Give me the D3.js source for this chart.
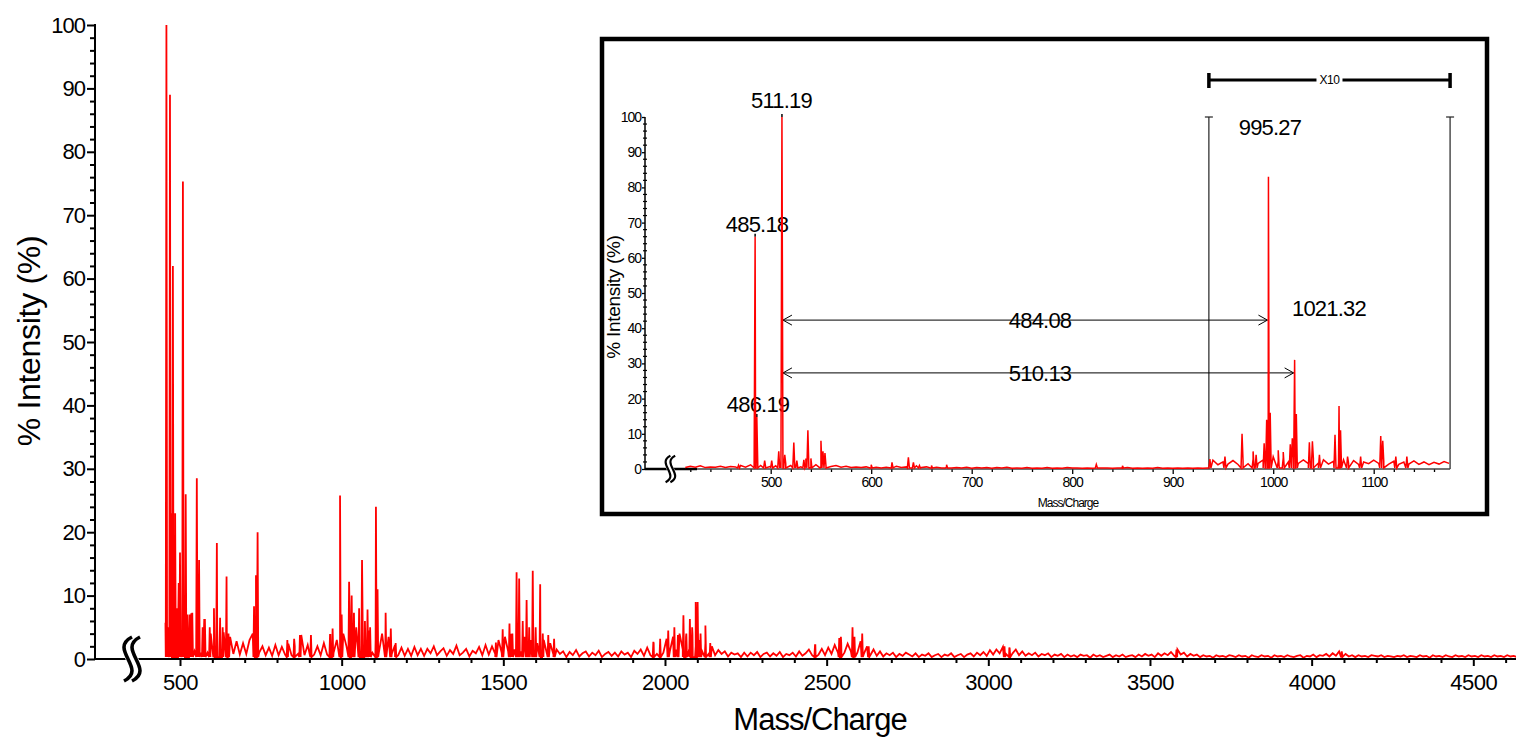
<!DOCTYPE html>
<html>
<head>
<meta charset="utf-8">
<script src="https://cdn.jsdelivr.net/npm/d3@7"></script>
<style>
body { margin: 0; background: #fff; }
text { font-family: "Liberation Sans", Arial, sans-serif; fill: #000; }
</style>
</head>
<body>
<script>
// ---- main spectrum data ----
// baseline noise, one value every 10 m/z starting at 455
var mainStart = 455, mainStep = 10;
var mainBase = [
  5.7,2.0,7.0,1.5,8.0,2.0,7.0,1.5,7.2,1.2,6.5,1.0,6.3,1.0,4.0,1.5,5.0,1.0,4.2,1.2,
  3.5,0.8,2.8,0.7,2.5,0.8,3.0,4.0,3.0,1.0,2.0,0.6,1.8,0.5,2.2,0.6,1.9,0.7,2.4,0.6,
  2.0,0.8,3.8,0.6,2.2,3.8,0.7,2.0,0.6,2.5,0.7,3.8,1.0,3.0,1.5,4.0,2.0,6.0,1.5,5.0,
  2.0,5.5,1.5,4.5,1.0,3.0,1.0,4.0,1.0,3.5,0.8,2.2,0.6,1.8,0.5,1.6,0.5,1.9,0.6,1.6,
  0.5,1.6,0.9,2.0,0.6,1.2,1.7,0.5,1.4,0.8,2.1,0.6,1.0,1.6,0.4,1.3,0.9,1.9,0.6,2.2,
  0.7,2.0,0.8,3.0,1.0,3.5,1.2,4.0,1.5,3.0,1.2,3.5,1.5,3.0,1.2,2.5,1.0,3.0,0.8,2.5,
  0.7,1.5,0.8,1.2,0.3,1.1,0.6,1.4,0.4,0.9,1.2,0.4,1.0,0.6,1.3,0.3,0.8,1.1,0.5,1.0,
  0.4,1.2,0.7,1.0,0.3,1.3,0.8,1.5,0.5,1.8,0.6,2.5,0.8,3.0,1.0,3.2,1.2,3.5,1.5,4.0,
  1.5,3.5,1.5,4.0,2.0,3.0,1.2,2.5,0.8,2.0,0.6,1.4,0.8,1.2,0.4,1.0,0.7,0.9,0.3,1.0,
  0.4,1.0,0.6,1.1,0.3,0.8,1.0,0.4,0.9,0.5,1.1,0.3,0.8,0.6,1.0,0.4,1.2,0.5,0.9,1.5,
  0.6,2.2,0.7,1.6,0.6,1.8,0.8,2.2,1.0,2.6,1.0,2.4,1.2,2.6,1.0,2.8,0.8,2.0,0.6,1.5,
  0.5,1.2,0.4,0.9,0.6,1.0,0.3,0.8,0.5,1.0,0.7,0.4,0.9,0.3,0.7,0.5,0.9,0.3,0.6,0.8,
  0.3,0.7,0.5,0.9,0.3,0.6,0.8,0.3,0.7,0.9,0.4,1.0,0.6,1.1,0.5,1.4,0.7,1.5,0.9,1.9,
  0.8,1.8,0.9,1.5,0.6,1.2,0.5,0.9,0.6,1.0,0.4,0.8,0.6,0.9,0.3,0.7,0.5,0.8,0.3,0.7,
  0.4,0.6,0.3,0.7,0.5,0.6,0.2,0.7,0.4,0.6,0.3,0.5,0.7,0.3,0.6,0.4,0.7,0.3,0.5,0.6,
  0.3,0.7,0.4,0.8,0.5,0.7,0.3,0.9,0.5,0.9,0.6,1.1,0.5,1.5,0.7,1.0,0.4,0.8,0.5,0.7,
  0.3,0.6,0.4,0.5,0.2,0.6,0.4,0.5,0.3,0.6,0.5,0.3,0.6,0.4,0.5,0.2,0.6,0.4,0.3,0.6,
  0.4,0.5,0.2,0.6,0.4,0.5,0.3,0.6,0.4,0.3,0.5,0.6,0.2,0.5,0.4,0.7,0.3,0.6,0.5,0.8,
  0.4,0.9,0.5,1.2,0.6,0.8,0.4,0.6,0.3,0.6,0.4,0.5,0.3,0.6,0.5,0.4,0.6,0.3,0.5,0.4,
  0.3,0.5,0.4,0.6,0.3,0.5,0.4,0.3,0.6,0.4,0.5,0.2,0.6,0.4,0.5,0.3,0.6,0.4,0.3,0.6,
  0.4,0.5,0.3,0.6,0.4,0.5,0.3,0.6,0.4,0.5,0.3,0.6,0.4,0.5,0.3,0.6,0.4,0.5,0.3
];
// [m/z, % intensity]
var mainPeaks = [
  [458,100],[462,5],[469,89],[473,23],[478,62],[485,23],[490,8],[496,12],[500,16.8],
  [509,75.3],[513,9],[517.6,26],[523,7],[530,7],[538,7.3],[552,28.5],[559,15.6],[570,5],
  [577,6.3],[592,5],[605,8],[614,18.3],[624,6.5],[632,5],[644,13],[650,4],
  [729,8.3],[735,13.2],[740,20],[832,3],[853,3.2],[871,3.8],[905,3.8],[964,3.8],[972,4.8],
  [995,25.8],[1000,7],[1023,12.2],[1031,10],[1038,7.3],[1054,8],[1063,15.6],[1072,6],
  [1080,7.8],[1088,5],[1106,24],[1111,11],[1136,7.3],[1152,4.8],[1167,2.5],
  [1477,2.6],[1498,4.7],[1519,5.6],[1528,4],[1541,13.7],[1549,12.7],[1560,6],[1572,9.3],
  [1580,5],[1591,13.9],[1600,5],[1614,11.8],[1622,4],[1639,3.8],[1657,3.2],
  [1964,2.7],[1985,3.2],[2010,4.5],[2029,5],[2040,3.8],[2057,6.9],[2066,4],[2077,6.3],
  [2084,5],[2095,9],[2101,9],[2110,4],[2125,5.3],[2140,2.5],
  [2464,2.2],[2539,3.3],[2544,3.5],[2580,5],[2586,3.5],[2610,4],[2630,2],
  [3050,2],[3066,1.7],[3582,1.5],[4093,1.2]
];
var mainXTicks = [500,1000,1500,2000,2500,3000,3500,4000,4500];
var mainYTicks = [0,10,20,30,40,50,60,70,80,90,100];

// ---- inset data ----
var insetStart = 415, insetStep = 5;
var insetBase = [
  0.4,0.8,0.5,0.9,0.4,0.6,0.5,0.8,0.4,0.7,0.6,1.0,0.5,1.2,0.6,1.0,0.5,0.8,0.9,1.5,
  1.5,1.0,1.2,0.6,1.0,0.5,1.2,0.6,0.9,0.7,1.0,0.5,0.8,0.4,0.6,0.4,0.6,0.3,0.5,0.3,
  0.5,0.3,0.8,0.4,0.6,0.3,0.9,0.4,0.6,0.3,0.5,0.3,0.6,0.3,0.4,0.3,0.5,0.2,0.4,0.3,
  0.4,0.2,0.4,0.3,0.5,0.2,0.3,0.2,0.4,0.2,0.3,0.2,0.4,0.2,0.3,0.2,0.4,0.3,0.3,0.2,
  0.3,0.2,0.4,0.3,0.3,0.2,0.3,0.2,0.4,0.2,0.3,0.2,0.3,0.2,0.4,0.2,0.3,0.2,0.3,0.2,
  0.3,0.2,0.3,0.2,0.3,2.5,1.2,2.0,1.4,2.4,1.3,2.2,1.5,2.8,1.6,2.6,1.8,3.5,2.2,3.2,
  2.0,3.0,1.6,2.6,1.5,3.0,1.7,2.6,1.4,2.2,1.5,2.6,1.6,2.4,1.3,2.0,1.5,2.5,1.6,2.3,
  1.4,2.2,1.3,2.0,1.4,2.3,1.3,2.0,1.2,1.9,1.4,2.1,1.6
];
var insetPeaks = [
  [468,1.1],[484.5,66],[486.19,14.8],[494,2.4],[501,2.4],[508,5],[511.19,100],[514,4],
  [523,7.5],[526,2.4],[533,2.6],[535,3],[537,11],[540,3],[550,8],[552,5],[554,4.5],
  [600,1.2],[620.7,1.9],[637,3.3],[642,1.9],[648,1],[660,1],[675,1.2],[824,1.3],[850,0.9],
  [937,2.8],[952,3.5],[969,10],[980,5],[983,4],[991,7.3],[993.5,14],[995.27,83],[997,16],
  [1005,5.3],[1010,4.8],[1017,7],[1019,8.7],[1021.32,31],[1023,15.6],[1036,7.6],[1039,7.9],
  [1046,4],[1061.5,9.7],[1065.5,17.9],[1067,11],[1074,3.5],[1087,3.5],[1107,9.4],[1109,8],
  [1122,3.5],[1133,3.5]
];
var insetXTicks = [500,600,700,800,900,1000,1100];
var insetYTicks = [0,10,20,30,40,50,60,70,80,90,100];
var zoomRegion = [936, 1176];   // displayed x10
var peakLabels = ["511.19","485.18","486.19","995.27","1021.32"];
var diffs = [["484.08", 511.19, 995.27, 42.3], ["510.13", 511.19, 1021.32, 27.3]];

var W = 1516, H = 738;
var svg = d3.select("body").append("svg").attr("width", W).attr("height", H);

function spectrum(base, start, step, peaks, hw) {
  var pts = base.map(function(v, i) { return [start + i * step, v]; });
  peaks.forEach(function(p) {
    pts.push([p[0] - hw, 0.3], [p[0], p[1]], [p[0] + hw, 0.3]);
  });
  pts.sort(function(a, b) { return a[0] - b[0]; });
  return pts;
}

function squiggle(g, cx, cy, s) {
  var d = "M" + (cx + 2*s) + "," + (cy - 11*s) +
          " C" + (cx - 10*s) + "," + (cy - 5*s) + " " + (cx + 10*s) + "," + (cy + 5*s) + " " + (cx - 2*s) + "," + (cy + 11*s);
  g.append("path").attr("d", d).attr("transform", "translate(" + (2*s) + ",0)")
    .attr("fill", "none").attr("stroke", "#fff").attr("stroke-width", 6*s);
  [0, 4*s].forEach(function(off) {
    g.append("path").attr("d", d).attr("transform", "translate(" + off + ",0)")
      .attr("fill", "none").attr("stroke", "#000").attr("stroke-width", 1.8*s);
  });
}

// ---------- main chart ----------
var xMain = d3.scaleLinear().domain([500, 4500]).range([180, 1473.3]);
var yMain = d3.scaleLinear().domain([0, 100]).range([659, 25]);

svg.append("defs").append("clipPath").attr("id", "mainclip")
  .append("rect").attr("x", 96).attr("y", 0).attr("width", W - 96).attr("height", 659);

var mainPts = spectrum(mainBase, mainStart, mainStep, mainPeaks, 2);
svg.append("path").datum(mainPts)
  .attr("clip-path", "url(#mainclip)")
  .attr("fill", "none").attr("stroke", "#ff0000").attr("stroke-width", 1.8)
  .attr("d", d3.line().x(function(d) { return xMain(d[0]); }).y(function(d) { return yMain(d[1]); }));

// y axis
var gy = svg.append("g").attr("transform", "translate(95,0)");
gy.call(d3.axisLeft(yMain).tickValues(d3.range(0, 101, 2).filter(function(v) { return v % 10; }))
  .tickSize(5).tickFormat(""));
gy.append("g").call(d3.axisLeft(yMain).tickValues(mainYTicks).tickSize(8).tickPadding(2));
gy.selectAll(".domain").remove();
gy.selectAll("line").attr("stroke", "#000").attr("stroke-width", 2);
gy.selectAll("text").style("font-size", "22px").style("letter-spacing", "-1px");
svg.append("line").attr("x1", 95).attr("x2", 95).attr("y1", 24).attr("y2", 660)
  .attr("stroke", "#000").attr("stroke-width", 2);

// x axis
var gx = svg.append("g").attr("transform", "translate(0,659)");
gx.call(d3.axisBottom(xMain).tickValues(d3.range(600, 4601, 100).filter(function(v) { return v % 500; }))
  .tickSize(4).tickFormat(""));
gx.append("g").call(d3.axisBottom(xMain).tickValues(mainXTicks).tickSize(7).tickPadding(8).tickFormat(d3.format("d")));
gx.selectAll(".domain").remove();
gx.selectAll("line").attr("stroke", "#000").attr("stroke-width", 2);
gx.selectAll("text").style("font-size", "22px").style("letter-spacing", "-0.5px");
svg.append("line").attr("x1", 94).attr("x2", W).attr("y1", 659).attr("y2", 659)
  .attr("stroke", "#000").attr("stroke-width", 2);

squiggle(svg.append("g"), 128, 659, 2);

svg.append("text").attr("x", 820).attr("y", 730).attr("text-anchor", "middle")
  .style("font-size", "31px").style("letter-spacing", "-1px").text("Mass/Charge");
svg.append("text").attr("transform", "translate(40,341) rotate(-90)").attr("text-anchor", "middle")
  .style("font-size", "32px").style("letter-spacing", "-0.3px").text("% Intensity (%)");

// ---------- inset ----------
svg.append("rect").attr("x", 602).attr("y", 39).attr("width", 885).attr("height", 475)
  .attr("fill", "#fff").attr("stroke", "#000").attr("stroke-width", 4.5);

var xIn = d3.scaleLinear().domain([500, 1100]).range([770.7, 1373.7]);
var yIn = d3.scaleLinear().domain([0, 100]).range([469, 117]);
var ins = svg.append("g");

// x10 bracket
var zx0 = xIn(zoomRegion[0]), zx1 = xIn(zoomRegion[1]);
ins.append("line").attr("x1", zx0).attr("x2", zx1).attr("y1", 80).attr("y2", 80)
  .attr("stroke", "#000").attr("stroke-width", 3);
[zx0, zx1].forEach(function(x) {
  ins.append("line").attr("x1", x).attr("x2", x).attr("y1", 73).attr("y2", 88)
    .attr("stroke", "#000").attr("stroke-width", 3.5);
  ins.append("line").attr("x1", x).attr("x2", x).attr("y1", yIn(100)).attr("y2", yIn(0))
    .attr("stroke", "#222").attr("stroke-width", 1.2);
  ins.append("line").attr("x1", x - 4).attr("x2", x + 4).attr("y1", yIn(100)).attr("y2", yIn(100))
    .attr("stroke", "#222").attr("stroke-width", 1.2);
});
ins.append("rect").attr("x", (zx0 + zx1) / 2 - 13).attr("y", 74).attr("width", 26).attr("height", 12).attr("fill", "#fff");
ins.append("text").attr("x", (zx0 + zx1) / 2).attr("y", 84).attr("text-anchor", "middle")
  .style("font-size", "12px").style("letter-spacing", "-0.5px").text("X10");

// labels
var labelPos = {
  "511.19": [510.7, 102.6], "485.18": [486.4, 67.3], "486.19": [487.4, 16.2],
  "995.27": [996.8, 94.9], "1021.32": [1055.5, 43.5]
};
peakLabels.forEach(function(t) {
  ins.append("text").attr("x", xIn(labelPos[t][0])).attr("y", yIn(labelPos[t][1]))
    .attr("text-anchor", "middle").style("font-size", "22px").style("letter-spacing", "-0.8px").text(t);
});
// little marks on labelled peak tops
[[511.19, 100], [484.5, 66], [486.19, 14.8]].forEach(function(p) {
  ins.append("line").attr("x1", xIn(p[0])).attr("x2", xIn(p[0]))
    .attr("y1", yIn(p[1]) - 3).attr("y2", yIn(p[1]))
    .attr("stroke", "#000").attr("stroke-width", 1.5);
});

// difference arrows
diffs.forEach(function(d) {
  var y = yIn(d[3]), xa = xIn(d[1]) + 1, xb = xIn(d[2]) - 1;
  ins.append("line").attr("x1", xa).attr("x2", xb).attr("y1", y).attr("y2", y)
    .attr("stroke", "#000").attr("stroke-width", 1);
  ins.append("path").attr("d", "M" + (xa + 9) + "," + (y - 5) + "L" + xa + "," + y + "L" + (xa + 9) + "," + (y + 5))
    .attr("fill", "none").attr("stroke", "#000").attr("stroke-width", 1);
  ins.append("path").attr("d", "M" + (xb - 9) + "," + (y - 5) + "L" + xb + "," + y + "L" + (xb - 9) + "," + (y + 5))
    .attr("fill", "none").attr("stroke", "#000").attr("stroke-width", 1);
  ins.append("text").attr("x", xIn(768)).attr("y", y + 8).attr("text-anchor", "middle")
    .style("font-size", "22px").style("letter-spacing", "-0.8px").text(d[0]);
});

// inset axes
var iy = ins.append("g").attr("transform", "translate(645,0)");
iy.call(d3.axisLeft(yIn).tickValues(insetYTicks).tickSize(3).tickPadding(1));
iy.selectAll(".domain").remove();
iy.selectAll("line").attr("stroke", "#000").attr("stroke-width", 1.3);
iy.selectAll("text").style("font-size", "14px").style("letter-spacing", "-1px");
iy.selectAll(".minor").data(d3.range(0, 101, 2).filter(function(v) { return v % 10; }))
  .enter().append("line").attr("class", "minor")
  .attr("x1", -2).attr("x2", 2).attr("y1", yIn).attr("y2", yIn)
  .attr("stroke", "#000").attr("stroke-width", 1.2);
ins.append("line").attr("x1", 645).attr("x2", 645).attr("y1", yIn(100)).attr("y2", yIn(0) + 1)
  .attr("stroke", "#000").attr("stroke-width", 1.5);

var ix = ins.append("g").attr("transform", "translate(0,469)");
ix.call(d3.axisBottom(xIn).tickValues(d3.range(420, 1161, 20).filter(function(v) { return v % 100; }))
  .tickSize(3).tickFormat(""));
ix.append("g").call(d3.axisBottom(xIn).tickValues(insetXTicks).tickSize(5).tickPadding(3).tickFormat(d3.format("d")));
ix.selectAll(".domain").remove();
ix.selectAll("line").attr("stroke", "#000").attr("stroke-width", 1.3);
ix.selectAll("text").style("font-size", "14px").style("letter-spacing", "-1px");
ins.append("line").attr("x1", 645).attr("x2", zx1).attr("y1", 469).attr("y2", 469)
  .attr("stroke", "#444").attr("stroke-width", 1.5);
ins.append("line").attr("x1", 645).attr("x2", 697).attr("y1", 469).attr("y2", 469)
  .attr("stroke", "#000").attr("stroke-width", 2.5);
squiggle(ins.append("g"), 668, 469, 1.2);

var inPts = spectrum(insetBase, insetStart, insetStep, insetPeaks, 1);
ins.append("path").datum(inPts)
  .attr("fill", "none").attr("stroke", "#ff0000").attr("stroke-width", 1.5)
  .attr("d", d3.line().x(function(d) { return xIn(d[0]); }).y(function(d) { return yIn(d[1]); }));

ins.append("text").attr("transform", "translate(620,297) rotate(-90)").attr("text-anchor", "middle")
  .style("font-size", "19px").style("letter-spacing", "-0.3px").text("% Intensity (%)");
ins.append("text").attr("x", 1068).attr("y", 507).attr("text-anchor", "middle")
  .style("font-size", "12px").style("letter-spacing", "-1px").text("Mass/Charge");
</script>
</body>
</html>
